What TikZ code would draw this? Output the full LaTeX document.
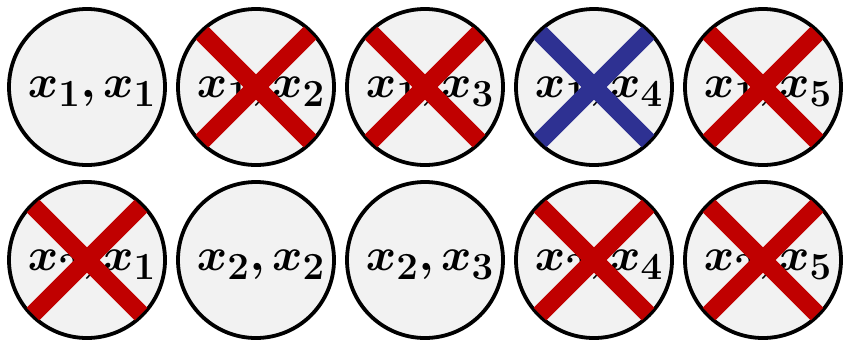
\documentclass[tikz,border=0pt]{standalone}
\usepackage{amsmath,bm}
\definecolor{fillgray}{HTML}{F2F2F2}
\definecolor{crossred}{HTML}{C00000}
\definecolor{crossblue}{HTML}{2E3192}
\begin{document}
\begin{tikzpicture}[x=1pt,y=1pt,
  ball/.style={circle,draw=black,line width=3.8pt,fill=fillgray,minimum size=156pt,inner sep=0pt},
  pairtext/.style={inner sep=0pt,font=\Huge},
  crossline/.style={line width=18pt,line cap=butt}]
\useasboundingbox (0,0) rectangle (845,-341);
\newcommand{\pairlabel}[2]{\scalebox{1.85}{$\bm{x}_{\bm{#1}}\bm{,}\bm{x}_{\bm{#2}}$}}
\foreach \i/\xx in {1/87,2/256,3/425,4/594,5/763}{
  \node[ball] (a\i) at (\xx,-87) {};
  \node[pairtext] (ta\i) at ([shift={(5,-5)}]a\i.center) {\pairlabel{1}{\i}};
  \node[ball] (b\i) at (\xx,-260) {};
  \node[pairtext] (tb\i) at ([shift={(5,-5)}]b\i.center) {\pairlabel{2}{\i}};
}
\foreach \n/\c in {a2/crossred,a3/crossred,a4/crossblue,a5/crossred,b1/crossred,b4/crossred,b5/crossred}{
  \draw[crossline,\c] ([shift={(-54,54)}]\n.center) -- ([shift={(54,-54)}]\n.center);
  \draw[crossline,\c] ([shift={(-54,-54)}]\n.center) -- ([shift={(54,54)}]\n.center);
}
\end{tikzpicture}
\end{document}
